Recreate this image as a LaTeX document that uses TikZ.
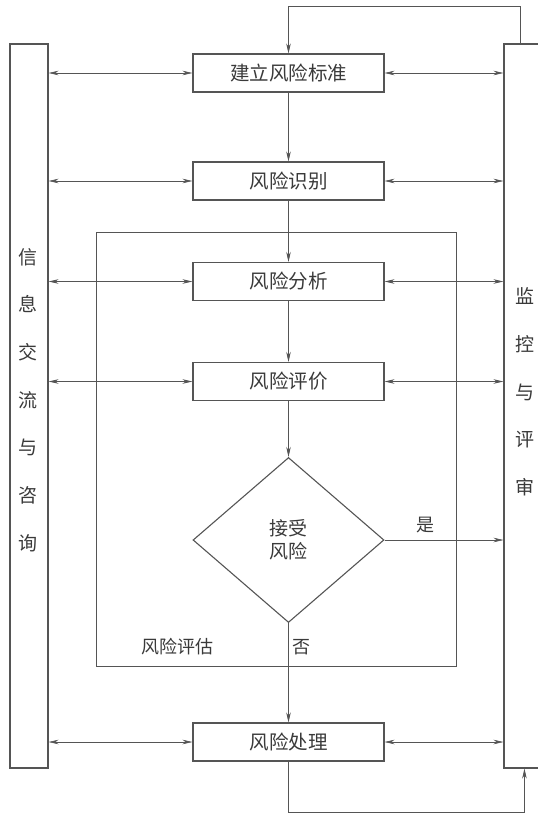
\documentclass[tikz,border=0pt]{standalone}
\usepackage{fontspec}
\newfontfamily\cjk{Noto Sans CJK SC}
\usetikzlibrary{arrows.meta,shapes.geometric}
\definecolor{lc}{HTML}{555555}
\definecolor{tc}{HTML}{3A3A3A}
\tikzset{
  stepbox/.style={draw=lc,line width=1.1pt,minimum width=191pt,minimum height=38pt,inner sep=0pt,text=tc,font=\cjk\fontsize{19.5}{21}\selectfont},
  bar/.style={draw=lc,line width=1.1pt,inner sep=0pt},
  conn/.style={draw=lc,line width=0.6pt},
  tip/.style={-{Stealth[length=10pt,width=4.5pt]}},
  dtip/.style={{Stealth[length=10pt,width=4.5pt]}-{Stealth[length=10pt,width=4.5pt]}},
  vtext/.style={text=tc,align=center,font=\cjk\fontsize{19}{47.7}\selectfont,inner sep=0pt},
  lbl/.style={text=tc,font=\cjk\fontsize{18}{20}\selectfont,inner sep=0pt}
}
\begin{document}
\begin{tikzpicture}[x=1pt,y=-1pt]
\useasboundingbox (0,0) rectangle (538,814);
\clip (0,0) rectangle (538,814);
\fill[white] (0,0) rectangle (538,814);
% side bars
\node[bar,minimum width=38pt,minimum height=724pt] (info) at (29,406) {};
\node[bar,minimum width=41pt,minimum height=724pt] (mon) at (524.5,406) {};
\node[vtext] (infotext) at (28,400) {信\\息\\交\\流\\与\\咨\\询};
\node[vtext] (montext) at (525,392) {监\\控\\与\\评\\审};
% assessment frame
\node[draw=lc,line width=0.7pt,minimum width=360pt,minimum height=434pt,inner sep=0pt] (assess) at (276,449) {};
% steps
\node[stepbox] (b1) at (288.5,73) {建立风险标准};
\node[stepbox] (b2) at (288.5,181) {风险识别};
\node[stepbox] (b3) at (288.5,281.5) {风险分析};
\node[stepbox] (b4) at (288.5,381.5) {风险评价};
\node[draw=lc,line width=1.1pt,diamond,minimum width=191pt,minimum height=165pt,inner sep=0pt,align=center,text=tc,font=\cjk\fontsize{19}{23}\selectfont] (dec) at (288.5,540) {接受\\风险};
\node[stepbox] (b5) at (288.5,742) {风险处理};
% labels
\node[lbl] (yes) at (425,525) {是};
\node[lbl] (no) at (301,647) {否};
\node[lbl] (assesslbl) at (177,647) {风险评估};
% flow
\draw[conn,tip] (b1) -- (b2);
\draw[conn,tip] (b2) -- (b3);
\draw[conn,tip] (b3) -- (b4);
\draw[conn,tip] (b4) -- (dec);
\draw[conn,tip] (dec) -- (b5);
\draw[conn,tip] (dec.east) -- (dec.east -| mon.west);
% side exchanges
\foreach \b in {b1,b2,b3,b4,b5}{
  \draw[conn,dtip] (\b.west -| info.east) -- (\b.west);
  \draw[conn,dtip] (\b.east) -- (\b.east -| mon.west);
}
% feedback loops
\coordinate (mtop) at ([xshift=17pt]mon.north west);
\coordinate (mbot) at ([xshift=21pt]mon.south west);
\draw[conn,tip] (mtop) -- ++(0,-37) -| (b1.north);
\draw[conn,tip] (b5.south) -- ++(0,51) -| (mbot);
\end{tikzpicture}
\end{document}
